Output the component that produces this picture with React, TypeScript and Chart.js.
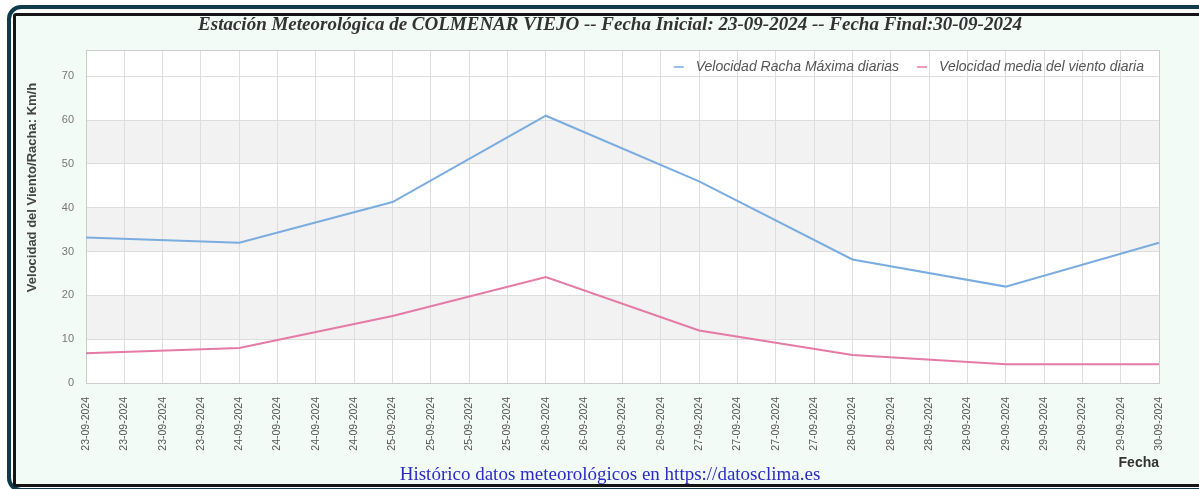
import React, { useEffect, useRef } from "react";
import { Chart, registerables } from "chart.js";

Chart.register(...registerables);

const chartTitle =
  "Estación Meteorológica de COLMENAR VIEJO -- Fecha Inicial: 23-09-2024 -- Fecha Final:30-09-2024";
const footerText = "Histórico datos meteorológicos en https://datosclima.es";
const yAxisTitle = "Velocidad del Viento/Racha: Km/h";
const xAxisTitle = "Fecha";

const tickLabels = [
  "23-09-2024", "23-09-2024", "23-09-2024", "23-09-2024",
  "24-09-2024", "24-09-2024", "24-09-2024", "24-09-2024",
  "25-09-2024", "25-09-2024", "25-09-2024", "25-09-2024",
  "26-09-2024", "26-09-2024", "26-09-2024", "26-09-2024",
  "27-09-2024", "27-09-2024", "27-09-2024", "27-09-2024",
  "28-09-2024", "28-09-2024", "28-09-2024", "28-09-2024",
  "29-09-2024", "29-09-2024", "29-09-2024", "29-09-2024",
  "30-09-2024",
];

const slotsPerDay = 4;
const rachaMaxima = [33.2, 32.0, 41.3, 61.0, 46.0, 28.2, 22.0, 32.0];
const velocidadMedia = [6.8, 8.0, 15.3, 24.2, 12.0, 6.4, 4.3, 4.3];

const seriesNames = ["Velocidad Racha Máxima diarias", "Velocidad media del viento diaria"];
const seriesColors = ["rgb(122,172,224)", "rgb(229,122,166)"];

const bandRanges = [
  [10, 20],
  [30, 40],
  [50, 60],
];

const toSlots = (daily: number[]) =>
  tickLabels.map((_, i) => (i % slotsPerDay === 0 ? daily[i / slotsPerDay] : null));

const bandsPlugin = {
  id: "bands",
  beforeDraw(chart: any) {
    const { ctx, chartArea, scales } = chart;
    const y = scales.y;
    ctx.save();
    ctx.fillStyle = "#ffffff";
    ctx.fillRect(chartArea.left, chartArea.top, chartArea.right - chartArea.left, chartArea.bottom - chartArea.top);
    ctx.fillStyle = "#f2f2f2";
    bandRanges.forEach(([a, b]) => {
      const y1 = y.getPixelForValue(b);
      const y2 = y.getPixelForValue(a);
      ctx.fillRect(chartArea.left, y1, chartArea.right - chartArea.left, y2 - y1);
    });
    ctx.restore();
  },
  beforeDatasetsDraw(chart: any) {
    const { ctx, chartArea } = chart;
    ctx.save();
    ctx.strokeStyle = "#cccccc";
    ctx.lineWidth = 1;
    ctx.strokeRect(
      Math.round(chartArea.left) + 0.5,
      Math.round(chartArea.top) + 0.5,
      Math.round(chartArea.right - chartArea.left),
      Math.round(chartArea.bottom - chartArea.top)
    );
    ctx.restore();
  },
};

const legendPlugin = {
  id: "innerLegend",
  afterDatasetsDraw(chart: any) {
    const { ctx, chartArea } = chart;
    ctx.save();
    ctx.font = "italic 14px 'Liberation Sans', Arial, sans-serif";
    ctx.textBaseline = "middle";
    ctx.textAlign = "left";
    const yMid = chartArea.top + 17;
    let xEnd = chartArea.right - 15;
    const items = chart.data.datasets.map((d: any) => ({ label: d.label, color: d.borderColor }));
    for (let i = items.length - 1; i >= 0; i--) {
      const it = items[i];
      const w = ctx.measureText(it.label).width;
      const textX = xEnd - w;
      ctx.fillStyle = "#555555";
      ctx.fillText(it.label, textX, yMid);
      ctx.strokeStyle = it.color;
      ctx.lineWidth = 1.5;
      ctx.beginPath();
      ctx.moveTo(textX - 22, yMid);
      ctx.lineTo(textX - 12, yMid);
      ctx.stroke();
      xEnd = textX - 22 - 18;
    }
    ctx.restore();
  },
  afterDraw(chart: any) {
    const { ctx, chartArea } = chart;
    ctx.save();
    ctx.font = "bold 13px 'Liberation Sans', Arial, sans-serif";
    ctx.fillStyle = "#444444";
    ctx.textAlign = "center";
    ctx.textBaseline = "middle";
    ctx.translate(16, (chartArea.top + chartArea.bottom) / 2 - 29);
    ctx.rotate(-Math.PI / 2);
    ctx.fillText(yAxisTitle, 0, 0);
    ctx.restore();
  },
};

export default function App() {
  const canvasRef = useRef<HTMLCanvasElement | null>(null);

  useEffect(() => {
    if (!canvasRef.current) return;
    const chart = new Chart(canvasRef.current, {
      type: "line",
      data: {
        labels: tickLabels,
        datasets: [
          {
            label: seriesNames[0],
            data: toSlots(rachaMaxima),
            borderColor: seriesColors[0],
            backgroundColor: seriesColors[0],
            borderWidth: 2,
            pointRadius: 0,
            spanGaps: true,
            tension: 0,
          },
          {
            label: seriesNames[1],
            data: toSlots(velocidadMedia),
            borderColor: seriesColors[1],
            backgroundColor: seriesColors[1],
            borderWidth: 2,
            pointRadius: 0,
            spanGaps: true,
            tension: 0,
          },
        ],
      },
      options: {
        animation: false,
        responsive: false,
        maintainAspectRatio: false,
        layout: { padding: { left: 45, right: 40, top: 0, bottom: 0 } },
        plugins: {
          legend: { display: false },
          tooltip: { enabled: false },
          title: {
            display: true,
            text: chartTitle,
            color: "#333333",
            font: { family: "'Liberation Serif', 'Times New Roman', serif", size: 19, style: "italic", weight: "bold", lineHeight: 1 },
            padding: { top: 0, bottom: 15 },
          },
          subtitle: {
            display: true,
            position: "bottom",
            text: footerText,
            color: "#2b2bc4",
            font: { family: "'Liberation Serif', 'Times New Roman', serif", size: 19, weight: "normal", lineHeight: 1 },
            padding: { top: 0, bottom: -1 },
          },
        },
        scales: {
          x: {
            grid: { color: "#dddddd", drawTicks: false },
            border: { color: "#cccccc" },
            ticks: {
              autoSkip: false,
              minRotation: 90,
              maxRotation: 90,
              padding: 14,
              color: "#555555",
              font: { family: "'Liberation Sans', Arial, sans-serif", size: 10.5 },
            },
            title: {
              display: true,
              text: xAxisTitle,
              align: "end",
              color: "#333333",
              font: { family: "'Liberation Sans', Arial, sans-serif", size: 14, weight: "bold", lineHeight: 1 },
              padding: { top: 0, bottom: -4 },
            },
            afterFit: (scale: any) => {
              scale.height = 83;
            },
          },
          y: {
            min: 0,
            max: 76,
            grid: { color: "#dddddd", drawTicks: false },
            border: { color: "#cccccc" },
            ticks: {
              stepSize: 10,
              padding: 12,
              color: "#777777",
              font: { family: "'Liberation Sans', Arial, sans-serif", size: 11 },
            },
            afterBuildTicks: (scale: any) => {
              scale.ticks = scale.ticks.filter((t: any) => t.value % 10 === 0);
            },
            afterFit: (scale: any) => {
              scale.width = 25;
            },
          },
        },
      },
      plugins: [bandsPlugin, legendPlugin],
    } as any);
    return () => chart.destroy();
  }, []);

  return (
    <div style={{ position: "fixed", left: 0, top: 0, width: 1199, height: 489, overflow: "hidden", background: "#ffffff" }}>
      <div
        style={{
          position: "absolute",
          left: 7,
          top: 5,
          width: 1210,
          height: 487,
          boxSizing: "border-box",
          border: "4px solid #0d3b4c",
          borderRadius: 14,
          background: "#fafafa",
        }}
      />
      <div
        style={{
          position: "absolute",
          left: 13,
          top: 13,
          width: 1200,
          height: 474,
          boxSizing: "border-box",
          border: "3px solid #151515",
          borderRadius: 3,
          background: "#f3fbf7",
        }}
      />
      <canvas
        ref={canvasRef}
        width={1183}
        height={468}
        style={{ position: "absolute", left: 16, top: 16, width: 1183, height: 468 }}
      />
    </div>
  );
}
